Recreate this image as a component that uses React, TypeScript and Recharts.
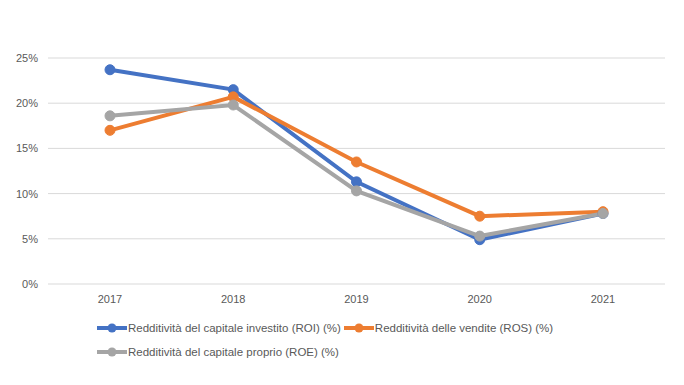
import React from 'react';
import { LineChart, Line, XAxis, YAxis, CartesianGrid, Legend } from 'recharts';

const years = ['2017', '2018', '2019', '2020', '2021'];
const roi = [23.7, 21.5, 11.3, 4.9, 7.8];
const ros = [17.0, 20.7, 13.5, 7.5, 8.0];
const roe = [18.6, 19.8, 10.3, 5.3, 7.8];
const yTicks = [0, 5, 10, 15, 20, 25];

const seriesList = [
  { key: 'roi', name: 'Redditività del capitale investito (ROI) (%)', color: '#4472C4' },
  { key: 'ros', name: 'Redditività delle vendite (ROS) (%)', color: '#ED7D31' },
  { key: 'roe', name: 'Redditività del capitale proprio (ROE) (%)', color: '#A5A5A5' },
];

const data = years.map((year, i) => ({ year, roi: roi[i], ros: ros[i], roe: roe[i] }));

const FONT = '"Liberation Sans", Arial, sans-serif';

const renderLegend = () => (
  <div style={{ display: 'flex', flexWrap: 'wrap', width: 490, fontFamily: FONT, fontSize: 11.5, color: '#595959' }}>
    {seriesList.map((s) => (
      <div key={s.key} style={{ display: 'flex', alignItems: 'center', height: 24, marginRight: 2 }}>
        <svg width={32} height={12}>
          <line x1={1} y1={6} x2={31} y2={6} stroke={s.color} strokeWidth={4} />
          <circle cx={16} cy={6} r={4.5} fill={s.color} />
        </svg>
        <span>{s.name}</span>
      </div>
    ))}
  </div>
);

export default function App() {
  return (
    <div style={{ position: 'absolute', left: 0, top: 0, background: '#fff' }}>
      <LineChart width={684} height={385} data={data} margin={{ top: 58, right: 19, left: 0, bottom: 21 }}>
        <CartesianGrid vertical={false} stroke="#D9D9D9" />
        <XAxis
          dataKey="year"
          height={32}
          padding={{ left: 62, right: 62 }}
          axisLine={false}
          tickLine={false}
          tickSize={0}
          tickMargin={11}
          tick={{ fill: '#595959', fontSize: 11, fontFamily: FONT }}
        />
        <YAxis
          width={48}
          domain={[0, 25]}
          ticks={yTicks}
          tickFormatter={(v: number) => `${v}%`}
          axisLine={false}
          tickLine={false}
          tickSize={0}
          tickMargin={10}
          tick={{ fill: '#595959', fontSize: 11, fontFamily: FONT }}
        />
        <Legend verticalAlign="bottom" align="left" wrapperStyle={{ left: 96 }} content={renderLegend} />
        {seriesList.map((s) => (
          <Line
            key={s.key}
            dataKey={s.key}
            name={s.name}
            stroke={s.color}
            strokeWidth={4}
            dot={{ r: 5, fill: s.color, stroke: s.color, strokeWidth: 1 }}
            activeDot={false}
            isAnimationActive={false}
          />
        ))}
      </LineChart>
    </div>
  );
}
